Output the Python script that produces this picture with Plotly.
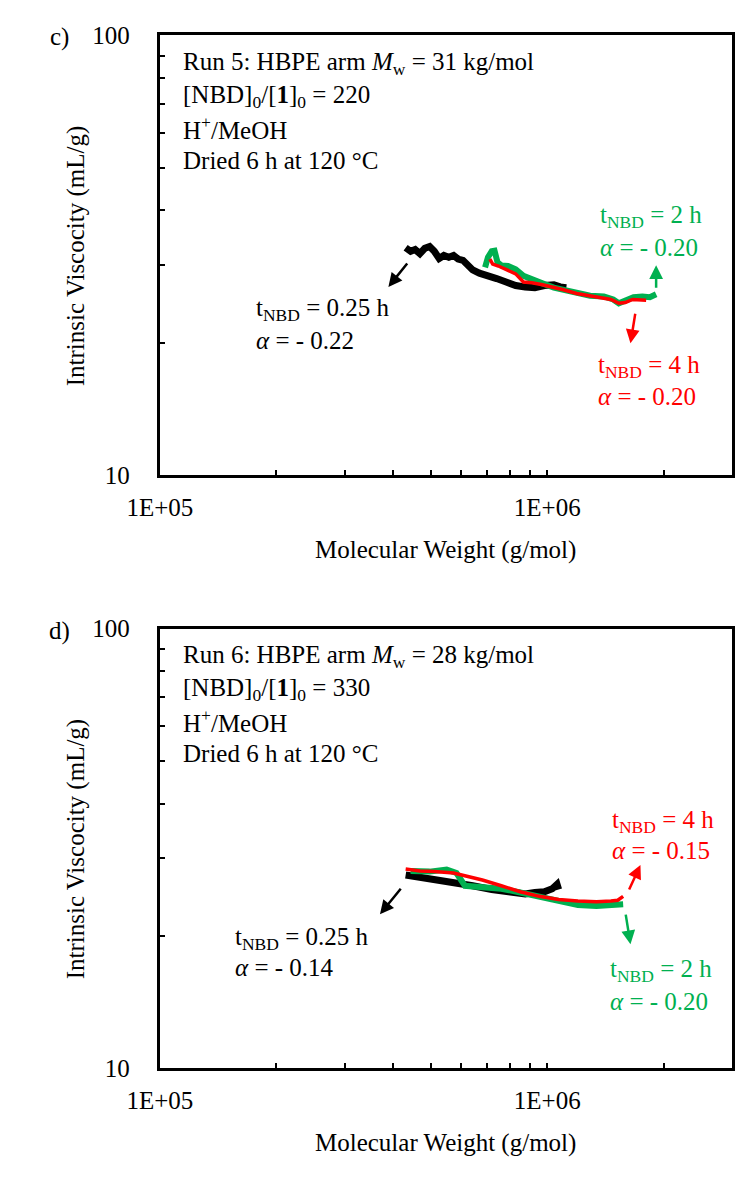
import plotly.graph_objects as go
import math

# ---------------- data ----------------
# Panel c (Run 5)
c_black_x = [4.31e5, 4.44e5, 4.56e5, 4.69e5, 4.83e5, 4.97e5, 5.11e5, 5.26e5, 5.41e5, 5.57e5, 5.73e5, 5.89e5,
             6.06e5, 6.24e5, 6.42e5, 6.68e5, 6.99e5, 7.40e5, 7.83e5, 8.29e5, 8.77e5, 9.29e5, 9.83e5, 1.04e6,
             1.08e6, 1.12e6]
c_black_y = [32.9, 32.3, 32.6, 31.9, 32.8, 33.1, 32.3, 31.1, 31.6, 31.3, 31.6, 31.0,
             30.8, 30.0, 29.3, 28.8, 28.5, 28.0, 27.5, 27.0, 26.8, 26.7, 27.0, 27.1,
             26.8, 26.7]
c_green_x = [6.91e5, 7.03e5, 7.19e5, 7.31e5, 7.44e5, 7.61e5, 7.92e5, 8.29e5, 8.68e5, 9.13e5, 9.72e5, 1.04e6,
             1.11e6, 1.20e6, 1.29e6, 1.40e6, 1.48e6, 1.53e6, 1.59e6, 1.67e6, 1.76e6, 1.84e6, 1.91e6]
c_green_y = [29.7, 31.3, 32.3, 32.4, 30.5, 30.0, 29.9, 29.4, 28.4, 27.8, 27.3, 26.7,
             26.3, 25.9, 25.6, 25.5, 25.1, 24.6, 24.9, 25.4, 25.5, 25.4, 25.8]
c_red_x = [7.11e5, 7.23e5, 7.48e5, 7.83e5, 8.29e5, 8.68e5, 9.13e5, 9.72e5, 1.03e6, 1.10e6, 1.19e6, 1.28e6,
           1.38e6, 1.46e6, 1.53e6, 1.59e6, 1.66e6, 1.74e6, 1.80e6]
c_red_y = [31.0, 30.2, 29.9, 29.4, 28.7, 27.5, 27.4, 27.1, 26.8, 26.4, 25.9, 25.6,
           25.4, 25.1, 24.6, 24.7, 25.1, 25.1, 25.0]

# Panel d (Run 6)
d_black_x = [4.31e5, 4.56e5, 5.11e5, 5.73e5, 6.42e5, 7.19e5, 8.06e5, 8.77e5, 9.29e5, 9.83e5, 1.03e6, 1.06e6, 1.07e6]
d_black_y = [27.5, 27.3, 27.0, 26.6, 26.0, 25.5, 25.1, 24.9, 25.1, 25.2, 25.6, 26.2, 25.5]
d_red_x = [4.31e5, 4.69e5, 5.11e5, 5.73e5, 6.24e5, 6.80e5, 7.61e5, 8.52e5, 9.54e5, 1.07e6, 1.20e6, 1.34e6,
           1.46e6, 1.52e6, 1.57e6]
d_red_y = [28.4, 28.1, 28.0, 27.8, 27.3, 26.8, 26.0, 25.2, 24.6, 24.2, 24.0, 23.9,
           24.0, 24.1, 24.6]
d_green_x = [4.44e5, 4.97e5, 5.50e5, 5.83e5, 6.13e5, 6.80e5, 7.61e5, 8.52e5, 9.54e5, 1.07e6, 1.20e6, 1.34e6,
             1.46e6, 1.57e6]
d_green_y = [28.1, 28.0, 28.3, 27.8, 26.0, 25.8, 25.6, 25.1, 24.6, 24.0, 23.5, 23.4,
             23.6, 23.6]

x_tickvals = [1e5, 1e6]
x_ticktext = ["1E+05", "1E+06"]
x_minorvals = [2e5, 3e5, 4e5, 5e5, 6e5, 7e5, 8e5, 9e5, 2e6]
y_tickvals = [10, 100]
y_ticktext = ["10", "100"]
y_minorvals = [20, 30, 40, 50, 60, 70, 80, 90]

GREEN = "rgb(0,176,80)"
RED = "rgb(255,0,0)"
BLACK = "black"
FONT = "Liberation Serif, Times New Roman, serif"
FS = 25

W, H = 735, 1177


def px(x):
    return x / W


def py(y):
    return 1 - y / H


fig = go.Figure()

fig.add_trace(go.Scatter(x=c_black_x, y=c_black_y, mode="lines", line=dict(color=BLACK, width=7), xaxis="x", yaxis="y"))
fig.add_trace(go.Scatter(x=c_green_x, y=c_green_y, mode="lines", line=dict(color=GREEN, width=6), xaxis="x", yaxis="y"))
fig.add_trace(go.Scatter(x=c_red_x, y=c_red_y, mode="lines", line=dict(color=RED, width=3.5), xaxis="x", yaxis="y"))

fig.add_trace(go.Scatter(x=d_black_x, y=d_black_y, mode="lines", line=dict(color=BLACK, width=7), xaxis="x2", yaxis="y2"))
fig.add_trace(go.Scatter(x=d_green_x, y=d_green_y, mode="lines", line=dict(color=GREEN, width=6), xaxis="x2", yaxis="y2"))
fig.add_trace(go.Scatter(x=d_red_x, y=d_red_y, mode="lines", line=dict(color=RED, width=3.5), xaxis="x2", yaxis="y2"))

x_left, x_right = 133, 733
panels = [(23, 473), (630, 1080)]

xax = dict(type="log", range=[5, math.log10(3.0e6)], showline=True, linewidth=3, linecolor="black", mirror=True,
           ticks="inside", ticklen=5, tickwidth=2, tickcolor="black", tickmode="array",
           tickvals=x_tickvals, ticktext=x_ticktext,
           minor=dict(tickmode="array", tickvals=x_minorvals, ticks="inside", ticklen=5, tickwidth=2,
                      tickcolor="black", showgrid=False),
           showgrid=False, zeroline=False, tickfont=dict(family=FONT, size=FS, color="black"),
           ticklabelstandoff=8)
yax = dict(type="log", range=[1, 2], showline=True, linewidth=3, linecolor="black", mirror=True,
           ticks="inside", ticklen=5, tickwidth=2, tickcolor="black", tickmode="array",
           tickvals=y_tickvals, ticktext=y_ticktext,
           minor=dict(tickmode="array", tickvals=y_minorvals, ticks="inside", ticklen=5, tickwidth=2,
                      tickcolor="black", showgrid=False),
           showgrid=False, zeroline=False, tickfont=dict(family=FONT, size=FS, color="black"),
           ticklabelstandoff=22)

fig.update_layout(
    width=W, height=H, margin=dict(l=0, r=0, t=0, b=0),
    paper_bgcolor="white", plot_bgcolor="white", showlegend=False,
    font=dict(family=FONT, size=FS, color="black"),
    xaxis=dict(xax, domain=[px(x_left), px(x_right)], anchor="y"),
    yaxis=dict(yax, domain=[py(panels[0][1]), py(panels[0][0])], anchor="x"),
    xaxis2=dict(xax, domain=[px(x_left), px(x_right)], anchor="y2"),
    yaxis2=dict(yax, domain=[py(panels[1][1]), py(panels[1][0])], anchor="x2"),
)

ann = []


def text(x, y, s, color="black", xanchor="left", angle=0):
    ann.append(dict(x=px(x), y=py(y), xref="paper", yref="paper", text=s, showarrow=False,
                    xanchor=xanchor, yanchor="middle", textangle=angle,
                    font=dict(family=FONT, size=FS, color=color)))


def arrow(xa, ya, xval, yval, axv, ayv, color):
    ann.append(dict(x=math.log10(xval), y=math.log10(yval), xref=xa, yref=ya, ax=axv, ay=ayv,
                    showarrow=True, arrowhead=2, arrowsize=1.1, arrowwidth=2.5, arrowcolor=color, text=""))


for i, (top, bot) in enumerate(panels):
    off = top - 23
    text(28, 25 + off, "c)" if i == 0 else "d)", xanchor="center")
    text(45, (top + bot) / 2, "Intrinsic Viscocity (mL/g)", xanchor="center", angle=-90)
    text((x_left + x_right) / 2, 550 + off, "Molecular Weight (g/mol)", xanchor="center")

# Panel c block
text(155, 52, "Run 5: HBPE arm <i>M</i><sub>w</sub> = 31 kg/mol")
text(155, 85, "[NBD]<sub>0</sub>/[<b>1</b>]<sub>0</sub> = 220")
text(155, 118, "H<sup>+</sup>/MeOH")
text(155, 151, "Dried 6 h at 120 °C")
# Panel d block
text(155, 52 + 607, "Run 6: HBPE arm <i>M</i><sub>w</sub> = 28 kg/mol")
text(155, 85 + 607, "[NBD]<sub>0</sub>/[<b>1</b>]<sub>0</sub> = 330")
text(155, 118 + 607, "H<sup>+</sup>/MeOH")
text(155, 151 + 607, "Dried 6 h at 120 °C")

# Panel c labels
text(232, 303, "t<sub>NBD</sub> = 0.25 h")
text(232, 335, "<i>α</i> = - 0.22")
text(592, 208, "t<sub>NBD</sub> = 2 h", GREEN)
text(592, 240, "<i>α</i> = - 0.20", GREEN)
text(590, 362, "t<sub>NBD</sub> = 4 h", RED)
text(590, 393, "<i>α</i> = - 0.20", RED)
# Panel d labels
text(210, 947, "t<sub>NBD</sub> = 0.25 h")
text(210, 977, "<i>α</i> = - 0.14")
text(605, 827, "t<sub>NBD</sub> = 4 h", RED)
text(605, 857, "<i>α</i> = - 0.15", RED)
text(603, 980, "t<sub>NBD</sub> = 2 h", GREEN)
text(603, 1012, "<i>α</i> = - 0.20", GREEN)

# arrows
arrow("x", "y", 3.89e5, 26.8, 20, -25, BLACK)
arrow("x", "y", 1.91e6, 30.0, 0, 24, GREEN)
arrow("x", "y", 1.64e6, 19.95, 5, -31, RED)
arrow("x2", "y2", 3.70e5, 22.4, 22, -27, BLACK)
arrow("x2", "y2", 1.74e6, 29.0, -12, 26, RED)
arrow("x2", "y2", 1.64e6, 19.15, -5, -31, GREEN)

fig.update_layout(annotations=ann)
fig.write_html("out.html")
